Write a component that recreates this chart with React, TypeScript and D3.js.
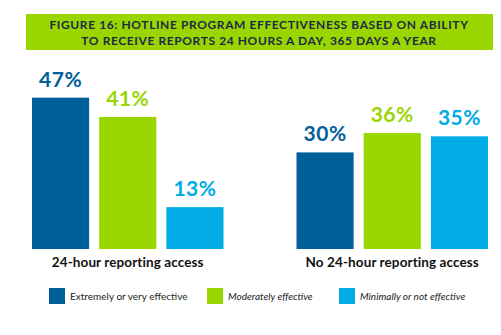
import React from "react";
import * as d3 from "d3";

const groups = ["24-hour reporting access", "No 24-hour reporting access"];
const series = ["Extremely or very effective", "Moderately effective", "Minimally or not effective"];
const extremely = [47, 30];
const moderately = [41, 36];
const minimally = [13, 35];
const seriesValues = [extremely, moderately, minimally];
const colors = ["#00609a", "#99d600", "#00abe6"];
const titleLines = [
  "FIGURE 16: HOTLINE PROGRAM EFFECTIVENESS BASED ON ABILITY",
  "TO RECEIVE REPORTS 24 HOURS A DAY, 365 DAYS A YEAR",
];

const W = 501;
const H = 335;

export default function App() {
  const x0 = d3.scaleBand<string>().domain(groups).range([32, 488]).paddingInner(0.276).paddingOuter(0);
  const x1 = d3.scaleBand<string>().domain(series).range([0, x0.bandwidth()]).paddingInner(0.15).paddingOuter(0);
  const y = d3.scaleLinear().domain([0, 50]).range([249, 88]);
  const font = "Lato, 'DejaVu Sans', sans-serif";

  const legendX = [49, 207, 339];
  return (
    <svg width={W} height={H} style={{ position: "absolute", left: 0, top: 0 }} fontFamily={font}>
      <rect x={26} y={14} width={467} height={36} fill="#99d600" />
      {titleLines.map((t, i) => (
        <text key={i} x={259} y={29 + i * 16} textAnchor="middle" fontSize={12} fontWeight="bold" fill="#1f2b45" letterSpacing={0.6}>
          {t}
        </text>
      ))}
      {groups.map((g, gi) => (
        <g key={g} transform={`translate(${x0(g)},0)`}>
          {series.map((s, si) => {
            const v = seriesValues[si][gi];
            const bx = x1(s)!;
            return (
              <g key={s}>
                <rect x={bx} y={y(v)} width={x1.bandwidth()} height={y(0) - y(v)} fill={colors[si]} />
                <text x={bx + x1.bandwidth() / 2} y={y(v) - 11} textAnchor="middle" fontSize={21} fontWeight="bold" fill={colors[si]} letterSpacing={0.5}>
                  {v}%
                </text>
              </g>
            );
          })}
          <text x={x0.bandwidth() / 2} y={267} textAnchor="middle" fontSize={13.5} fontWeight="bold" fill="#111" letterSpacing={0.1}>
            {g}
          </text>
        </g>
      ))}
      {series.map((s, si) => (
        <g key={s}>
          <rect x={legendX[si]} y={288} width={16} height={16} fill={colors[si]} />
          <text x={legendX[si] + 21} y={300} fontSize={10} fill="#222" fontStyle={si > 0 ? "italic" : "normal"}>
            {s}
          </text>
        </g>
      ))}
    </svg>
  );
}
